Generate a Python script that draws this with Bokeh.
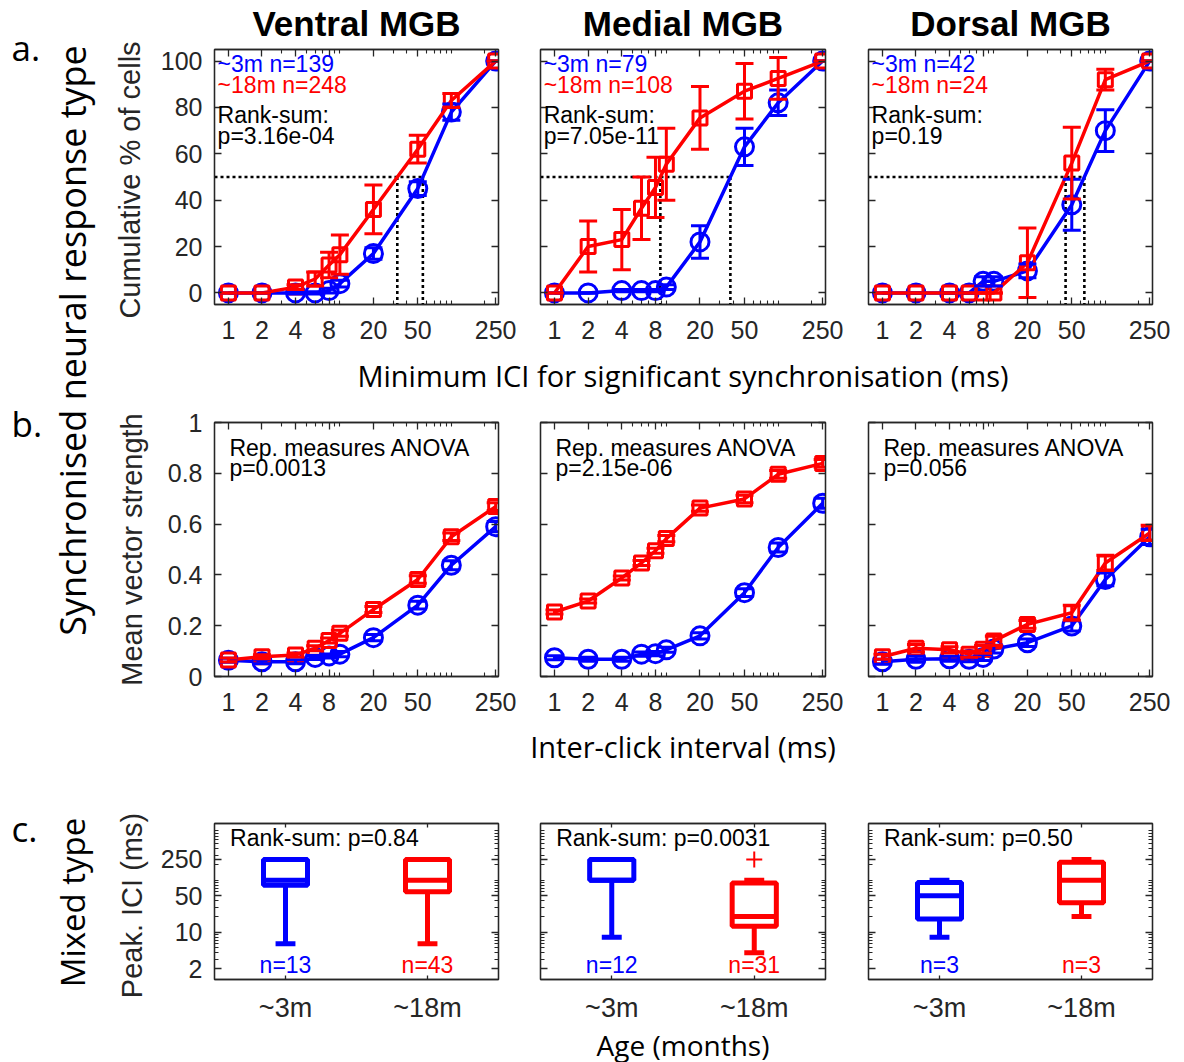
import math
from bokeh.plotting import figure
from bokeh.models import (Range1d, FixedTicker, LogAxis, LinearAxis, Label, Whisker,
                          TeeHead, ColumnDataSource, CustomJSTickFormatter)
from bokeh.layouts import row, column
from bokeh.embed import file_html
from bokeh.resources import INLINE

# ---------------- data ----------------
region_titles = ["Ventral MGB", "Medial MGB", "Dorsal MGB"]
ici_ms = [1, 2, 4, 6, 8, 10, 20, 50, 100, 250]
ici_tick_values = [1, 2, 4, 8, 20, 50, 250]
ici_minor_ticks = [3, 5, 6, 7, 9, 10, 30, 40, 60, 70, 80, 90, 100, 200]

# panel a: cumulative % of cells (mean, error)
cum_3m_ventral = [0, 0, 0, 0, 1, 4, 17, 45, 78, 100]
cum_3m_ventral_err = [0, 0, 0.5, 0.5, 1, 1.5, 2.5, 3, 3.5, 0]
cum_18m_ventral = [0, 0, 2.5, 6, 12, 16.5, 36, 62, 83, 100]
cum_18m_ventral_err = [0, 0, 1, 3, 5.5, 8.5, 10.5, 6, 3, 0]
cum_3m_medial = [0, 0, 1, 1, 1, 2.5, 22, 63, 82, 100]
cum_3m_medial_err = [0, 0, 0.5, 0.5, 0.5, 1, 7, 8, 5.5, 0]
cum_18m_medial = [0, 20, 23, 36.5, 45.5, 55.5, 75.5, 87, 92.5, 100]
cum_18m_medial_err = [0, 11, 13, 13.5, 13, 15.5, 13.5, 12, 9, 0]
cum_3m_dorsal = [0, 0, 0, 0, 5, 5, 9.5, 38, 70, 100]
cum_3m_dorsal_err = [0, 0, 0, 0, 2, 2, 3, 11, 9, 0]
cum_18m_dorsal = [0, 0, 0, 0, 0, 0, 13, 56, 92, 100]
cum_18m_dorsal_err = [0, 0, 0, 0, 0, 0, 15, 15.5, 4.5, 0]
n_3m_a = [139, 79, 42]
n_18m_a = [248, 108, 24]
ranksum_p_a = ["3.16e-04", "7.05e-11", "0.19"]
cum_ticks = [0, 20, 40, 60, 80, 100]

# panel b: mean vector strength
vs_3m_ventral = [0.064, 0.058, 0.058, 0.075, 0.081, 0.088, 0.153, 0.281, 0.438, 0.59]
vs_18m_ventral = [0.065, 0.078, 0.085, 0.111, 0.142, 0.17, 0.264, 0.382, 0.55, 0.669]
vs_3m_medial = [0.074, 0.068, 0.068, 0.088, 0.09, 0.105, 0.16, 0.33, 0.508, 0.682]
vs_18m_medial = [0.254, 0.297, 0.388, 0.447, 0.495, 0.543, 0.663, 0.699, 0.796, 0.839]
vs_3m_dorsal = [0.058, 0.068, 0.07, 0.068, 0.075, 0.108, 0.133, 0.199, 0.382, 0.55]
vs_18m_dorsal = [0.078, 0.111, 0.105, 0.088, 0.107, 0.14, 0.205, 0.251, 0.447, 0.565]
vs_err_3m = [0.008, 0.008, 0.008, 0.008, 0.008, 0.01, 0.012, 0.015, 0.018, 0.02]
vs_err_18m = [0.008, 0.008, 0.008, 0.01, 0.01, 0.012, 0.012, 0.015, 0.015, 0.015]
vs_err_3m_dorsal = [0.01, 0.012, 0.01, 0.01, 0.012, 0.015, 0.015, 0.02, 0.025, 0.03]
vs_err_18m_dorsal = [0.01, 0.015, 0.012, 0.012, 0.015, 0.018, 0.015, 0.03, 0.03, 0.03]
anova_p_b = ["0.0013", "2.15e-06", "0.056"]
vs_ticks = [0, 0.2, 0.4, 0.6, 0.8, 1]

# panel c: peak ICI (ms) box plots, order ventral, medial, dorsal
age_labels = ["~3m", "~18m"]
peak_low_3m = [6, 8, 8]
peak_q1_3m = [80, 100, 18]
peak_med_3m = [100, 100, 50]
peak_q3_3m = [250, 250, 90]
peak_high_3m = [250, 250, 100]
peak_low_18m = [6, 4, 20]
peak_q1_18m = [60, 13, 37]
peak_med_18m = [100, 20, 100]
peak_q3_18m = [250, 88, 220]
peak_high_18m = [250, 100, 250]
peak_outliers_18m = [[], [250], []]
n_3m_c = [13, 12, 3]
n_18m_c = [43, 31, 3]
ranksum_p_c = ["0.84", "0.0031", "0.50"]
peak_ticks = [2, 10, 50, 250]
peak_minor = [3, 4, 5, 6, 7, 8, 9, 20, 30, 40, 60, 70, 80, 90, 100, 200, 300, 400, 500, 600, 700, 800, 900]

# ---------------- style / layout constants ----------------
BLUE = "#0000ff"
RED = "#ff0000"
INK = "#262626"
SANS = "Liberation Sans"
LABEL_FONT = "Open Sans"
TICK_SIZE = "25px"
TEXT_SIZE = "23px"

LEFT_W = 150
LB = [64, 21, 21]
FW = [284, 285, 284]
RB = [21, 22, 32]
TITLE_H = 44
ROWS = {
    "a": dict(top=5, fh=255, bottom=48),
    "b": dict(top=22, fh=254, bottom=49),
    "c": dict(top=48, fh=156, bottom=44),
}
STRIP_A, STRIP_B = 48, 50
TOTAL_H = 1062
RIGHT_W = sum(LB) + sum(FW) + sum(RB)

frame_left = []
acc = LEFT_W
for i in range(3):
    frame_left.append(acc + LB[i])
    acc += LB[i] + FW[i] + RB[i]
frame_center = [frame_left[i] + FW[i] / 2 for i in range(3)]

X_RANGE = (0.75, 265)
A_RANGE = (-5, 105)


def style_axis(ax, ticker, show_labels=True, overrides=None, standoff=12, tick_in=7,
               label_size=TICK_SIZE):
    ax.ticker = ticker
    ax.axis_line_color = INK
    ax.axis_line_width = 1.3
    ax.major_tick_line_color = INK
    ax.minor_tick_line_color = INK
    ax.major_tick_line_width = 1.3
    ax.minor_tick_line_width = 1.1
    ax.major_tick_in = tick_in
    ax.major_tick_out = 0
    ax.minor_tick_in = 4
    ax.minor_tick_out = 0
    if show_labels:
        ax.major_label_text_font = SANS
        ax.major_label_text_font_size = label_size
        ax.major_label_text_color = INK
        ax.major_label_standoff = standoff
        if overrides:
            ax.major_label_overrides = overrides
    else:
        ax.formatter = CustomJSTickFormatter(code="return ''")
        ax.major_label_text_font_size = "1px"
        ax.major_label_standoff = 0


def make_panel(rkey, col, x_log, y_log, xr, yr, xticks, xminor, yticks, yminor,
               xover, yover, xstandoff=16, xtick_in=7, xlabel_size=TICK_SIZE):
    cfg = ROWS[rkey]
    p = figure(frame_width=FW[col], frame_height=cfg["fh"],
               min_border_left=LB[col], min_border_right=RB[col],
               min_border_top=cfg["top"], min_border_bottom=cfg["bottom"],
               x_axis_type="log" if x_log else "linear",
               y_axis_type="log" if y_log else "linear",
               x_range=Range1d(*xr), y_range=Range1d(*yr),
               output_backend="svg", toolbar_location=None)
    p.grid.visible = False
    p.outline_line_color = INK
    p.outline_line_width = 1.3
    p.background_fill_color = "white"
    p.border_fill_color = "white"
    style_axis(p.xaxis[0], FixedTicker(ticks=xticks, minor_ticks=xminor),
               True, xover, standoff=xstandoff, tick_in=xtick_in, label_size=xlabel_size)
    style_axis(p.yaxis[0], FixedTicker(ticks=yticks, minor_ticks=yminor),
               col == 0, yover, standoff=12)
    XA = LogAxis if x_log else LinearAxis
    YA = LogAxis if y_log else LinearAxis
    top = XA()
    style_axis(top, FixedTicker(ticks=xticks, minor_ticks=xminor), False, tick_in=xtick_in)
    p.add_layout(top, "above")
    right = YA()
    style_axis(right, FixedTicker(ticks=yticks, minor_ticks=yminor), False)
    p.add_layout(right, "right")
    return p


def plot_series(p, ys, errs, color, marker, size):
    src = ColumnDataSource(dict(
        x=ici_ms, y=ys,
        lo=[y - e for y, e in zip(ys, errs)],
        hi=[y + e for y, e in zip(ys, errs)]))
    p.line("x", "y", source=src, line_color=color, line_width=3.5)
    w = Whisker(source=src, base="x", lower="lo", upper="hi", dimension="height",
                line_color=color, line_width=3, level="glyph",
                upper_head=TeeHead(size=18, line_color=color, line_width=3),
                lower_head=TeeHead(size=18, line_color=color, line_width=3))
    p.add_layout(w)
    p.scatter("x", "y", source=src, marker=marker, size=size, line_color=color,
              line_width=3, fill_alpha=0)


def text(p, x, y, s, color="black", align="left"):
    p.add_layout(Label(x=x, y=y, text=s, text_color=color, text_font=SANS,
                       text_font_size=TEXT_SIZE, text_align=align,
                       text_baseline="middle"))


def crossing_at(xs, ys, level):
    for i in range(len(xs) - 1):
        if ys[i] < level <= ys[i + 1]:
            f = (level - ys[i]) / (ys[i + 1] - ys[i])
            lx = math.log10(xs[i]) + f * (math.log10(xs[i + 1]) - math.log10(xs[i]))
            return 10 ** lx
    return None


xover = {t: str(t) for t in ici_tick_values}

# ---------------- row a ----------------
a_series = [
    (cum_3m_ventral, cum_3m_ventral_err, cum_18m_ventral, cum_18m_ventral_err),
    (cum_3m_medial, cum_3m_medial_err, cum_18m_medial, cum_18m_medial_err),
    (cum_3m_dorsal, cum_3m_dorsal_err, cum_18m_dorsal, cum_18m_dorsal_err),
]
row_a = []
for i, (b, be, r, re_) in enumerate(a_series):
    p = make_panel("a", i, True, False, X_RANGE, A_RANGE, ici_tick_values, ici_minor_ticks,
                   cum_ticks, [], xover, {t: str(t) for t in cum_ticks})
    # half-way dotted guides
    cb = crossing_at(ici_ms, b, 50)
    cr = crossing_at(ici_ms, r, 50)
    p.line([X_RANGE[0], max(cb, cr)], [50, 50], line_color="black", line_width=2.6,
           line_dash="3 3")
    p.segment(x0=[cb, cr], x1=[cb, cr], y0=[50, 50], y1=[A_RANGE[0], A_RANGE[0]],
              line_color="black", line_width=2.6, line_dash="3 3")
    plot_series(p, b, be, BLUE, "circle", 18)
    plot_series(p, r, re_, RED, "square", 14)
    text(p, 0.8, 98.7, "~3m n=%d" % n_3m_a[i], BLUE)
    text(p, 0.8, 89.5, "~18m n=%d" % n_18m_a[i], RED)
    text(p, 0.8, 76.7, "Rank-sum:")
    text(p, 0.8, 67.8, "p=" + ranksum_p_a[i])
    row_a.append(p)

# ---------------- row b ----------------
b_series = [
    (vs_3m_ventral, vs_err_3m, vs_18m_ventral, vs_err_18m),
    (vs_3m_medial, vs_err_3m, vs_18m_medial, vs_err_18m),
    (vs_3m_dorsal, vs_err_3m_dorsal, vs_18m_dorsal, vs_err_18m_dorsal),
]
vs_over = {0: "0", 0.2: "0.2", 0.4: "0.4", 0.6: "0.6", 0.8: "0.8", 1: "1"}
row_b = []
for i, (b, be, r, re_) in enumerate(b_series):
    p = make_panel("b", i, True, False, X_RANGE, (0, 1), ici_tick_values, ici_minor_ticks,
                   vs_ticks, [], xover, vs_over)
    plot_series(p, b, be, BLUE, "circle", 18)
    plot_series(p, r, re_, RED, "square", 14)
    text(p, 1.02, 0.898, "Rep. measures ANOVA")
    text(p, 1.02, 0.82, "p=" + anova_p_b[i])
    row_b.append(p)

# ---------------- row c ----------------
row_c = []
for i in range(3):
    p = make_panel("c", i, False, True, (0.5, 2.5), (1.23, 1230), [1, 2], [],
                   peak_ticks, peak_minor, {1: age_labels[0], 2: age_labels[1]},
                   {t: str(t) for t in peak_ticks}, xstandoff=13, xtick_in=4,
                   xlabel_size="27px")
    src = ColumnDataSource(dict(
        cat=[1, 2],
        low=[peak_low_3m[i], peak_low_18m[i]],
        q1=[peak_q1_3m[i], peak_q1_18m[i]],
        med=[peak_med_3m[i], peak_med_18m[i]],
        q3=[peak_q3_3m[i], peak_q3_18m[i]],
        high=[peak_high_3m[i], peak_high_18m[i]],
        color=[BLUE, RED],
    ))
    bw, cw = 0.31, 0.14
    d = src.data
    d["left"] = [c - bw / 2 for c in d["cat"]]
    d["right"] = [c + bw / 2 for c in d["cat"]]
    d["cl"] = [c - cw / 2 for c in d["cat"]]
    d["cr"] = [c + cw / 2 for c in d["cat"]]
    p.segment(x0="cat", x1="cat", y0="q3", y1="high", source=src, line_color="color", line_width=5)
    p.segment(x0="cat", x1="cat", y0="q1", y1="low", source=src, line_color="color", line_width=5)
    p.segment(x0="cl", x1="cr", y0="high", y1="high", source=src, line_color="color", line_width=5)
    p.segment(x0="cl", x1="cr", y0="low", y1="low", source=src, line_color="color", line_width=5)
    p.quad(left="left", right="right", bottom="q1", top="q3", source=src,
           fill_color="white", line_color="color", line_width=5)
    p.segment(x0="left", x1="right", y0="med", y1="med", source=src,
              line_color="color", line_width=5)
    if peak_outliers_18m[i]:
        p.scatter(x=[2] * len(peak_outliers_18m[i]), y=peak_outliers_18m[i], marker="cross",
                  size=16, line_color=RED, line_width=2)
    text(p, 0.61, 634, "Rank-sum: p=" + ranksum_p_c[i])
    text(p, 1, 2.3, "n=%d" % n_3m_c[i], BLUE, align="center")
    text(p, 2, 2.3, "n=%d" % n_18m_c[i], RED, align="center")
    row_c.append(p)


# ---------------- strips ----------------
def strip(width, height, y0, x0):
    s = figure(width=width, height=height, x_range=Range1d(x0, x0 + width),
               y_range=Range1d(y0 + height, y0), min_border=0,
               x_axis_location=None, y_axis_location=None,
               output_backend="svg", toolbar_location=None)
    s.grid.visible = False
    s.outline_line_color = None
    s.background_fill_color = "white"
    s.border_fill_color = "white"
    return s


def strip_label(s, x, y, t, font, size, style="normal", angle=0, align="center", color="black"):
    s.add_layout(Label(x=x, y=y, text=t, text_font=font, text_font_size=size,
                       text_font_style=style, text_color=color, angle=angle,
                       text_align=align, text_baseline="middle"))


title_strip = strip(RIGHT_W, TITLE_H, 0, LEFT_W)
for i in range(3):
    strip_label(title_strip, frame_center[i], 22.5, region_titles[i], SANS, "35px", "bold")

fa_top = TITLE_H + ROWS["a"]["top"]
ya_end = TITLE_H + ROWS["a"]["top"] + ROWS["a"]["fh"] + ROWS["a"]["bottom"]
strip_a = strip(RIGHT_W, STRIP_A, ya_end, LEFT_W)
strip_label(strip_a, frame_center[1], ya_end + 23,
            "Minimum ICI for significant synchronisation (ms)", LABEL_FONT, "29px")

yb_start = ya_end + STRIP_A
fb_top = yb_start + ROWS["b"]["top"]
yb_end = yb_start + ROWS["b"]["top"] + ROWS["b"]["fh"] + ROWS["b"]["bottom"]
strip_b = strip(RIGHT_W, STRIP_B, yb_end, LEFT_W)
strip_label(strip_b, frame_center[1], yb_end + 21, "Inter-click interval (ms)", LABEL_FONT, "29px")

yc_start = yb_end + STRIP_B
fc_top = yc_start + ROWS["c"]["top"]
yc_end = yc_start + ROWS["c"]["top"] + ROWS["c"]["fh"] + ROWS["c"]["bottom"]
STRIP_C = TOTAL_H - yc_end
strip_c = strip(RIGHT_W, STRIP_C, yc_end, LEFT_W)
strip_label(strip_c, frame_center[1], yc_end + STRIP_C / 2, "Age (months)", LABEL_FONT, "28px")

left = strip(LEFT_W, TOTAL_H, 0, 0)
strip_label(left, 11, 47, "a.", LABEL_FONT, "35px", align="left")
strip_label(left, 11, 423, "b.", LABEL_FONT, "35px", align="left")
strip_label(left, 11, 828, "c.", LABEL_FONT, "35px", align="left")
strip_label(left, 72, 340, "Synchronised neural response type", LABEL_FONT, "36px",
            angle=math.pi / 2)
strip_label(left, 72, 902, "Mixed type", LABEL_FONT, "33px", angle=math.pi / 2)
# per-row y axis titles (placed beside the first column of panels)
strip_label(left, 129, fa_top + ROWS["a"]["fh"] / 2 + 3, "Cumulative % of cells", SANS, "29px",
            angle=math.pi / 2, color=INK)
strip_label(left, 131, fb_top + ROWS["b"]["fh"] / 2, "Mean vector strength", SANS, "29px",
            angle=math.pi / 2, color=INK)
strip_label(left, 131, fc_top + ROWS["c"]["fh"] / 2 + 4, "Peak. ICI (ms)", SANS, "29px",
            angle=math.pi / 2, color=INK)

layout = row(left, column(title_strip, row(*row_a), strip_a, row(*row_b), strip_b,
                          row(*row_c), strip_c))

open("out.html", "w").write(file_html(layout, INLINE))
